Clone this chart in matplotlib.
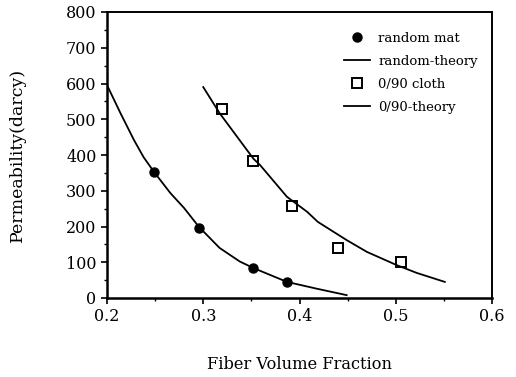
import matplotlib
matplotlib.use("Agg")
import matplotlib.pyplot as plt
from matplotlib.ticker import MultipleLocator

plt.rcParams['font.family'] = ['DejaVu Serif']

# measured data points
random_vf = [0.249, 0.296, 0.352, 0.387]
random_perm = [352, 196, 84, 46]
cloth_vf = [0.319, 0.352, 0.392, 0.440, 0.505]
cloth_perm = [529, 383, 257, 140, 101]

# theory curves
random_th_vf = [0.201, 0.214, 0.228, 0.238, 0.249, 0.266, 0.280, 0.2955,
                0.317, 0.338, 0.352, 0.387, 0.418, 0.449]
random_th_perm = [590, 517, 442, 394, 352, 293, 252, 199,
                  140, 102, 84, 45, 26, 8]
cloth_th_vf = [0.300, 0.317, 0.352, 0.359, 0.387, 0.408, 0.419, 0.449,
               0.470, 0.501, 0.522, 0.551]
cloth_th_perm = [590, 517, 390, 372, 283, 241, 213, 162,
                 129, 92, 70, 45]

fig = plt.figure(figsize=(5.16, 3.77), dpi=100)
ax = fig.add_axes([107/516, 1 - 298/377, 385/516, 286/377])

ax.plot(random_vf, random_perm, 'o', color='black', ms=6.5, label='random mat')
ax.plot(random_th_vf, random_th_perm, '-', color='black', lw=1.3, label='random-theory')
ax.plot(cloth_vf, cloth_perm, 's', mfc='white', mec='black', mew=1.4, ms=6.5,
        label='0/90 cloth')
ax.plot(cloth_th_vf, cloth_th_perm, '-', color='black', lw=1.3, label='0/90-theory')

ax.set_xlim(0.2, 0.6)
ax.set_ylim(0, 800)
ax.xaxis.set_major_locator(MultipleLocator(0.1))
ax.xaxis.set_minor_locator(MultipleLocator(0.05))
ax.yaxis.set_major_locator(MultipleLocator(100))
ax.yaxis.set_minor_locator(MultipleLocator(50))
ax.tick_params(which='major', direction='out', length=4, width=1.2, labelsize=11.5)
ax.tick_params(which='minor', direction='out', length=2.5, width=1)

for s in ['left', 'bottom']:
    ax.spines[s].set_linewidth(1.8)
for s in ['top', 'right']:
    ax.spines[s].set_linewidth(1.4)

ax.set_xlabel('Fiber Volume Fraction', fontsize=11.7, labelpad=22)
ax.set_ylabel('Permeability(darcy)', fontsize=12.5, labelpad=29)

ax.legend(loc='upper left', bbox_to_anchor=(0.585, 0.972), frameon=False,
          fontsize=9.5, handlelength=2.0, labelspacing=0.75, handletextpad=0.6)

fig.savefig('out.png', dpi=100)
